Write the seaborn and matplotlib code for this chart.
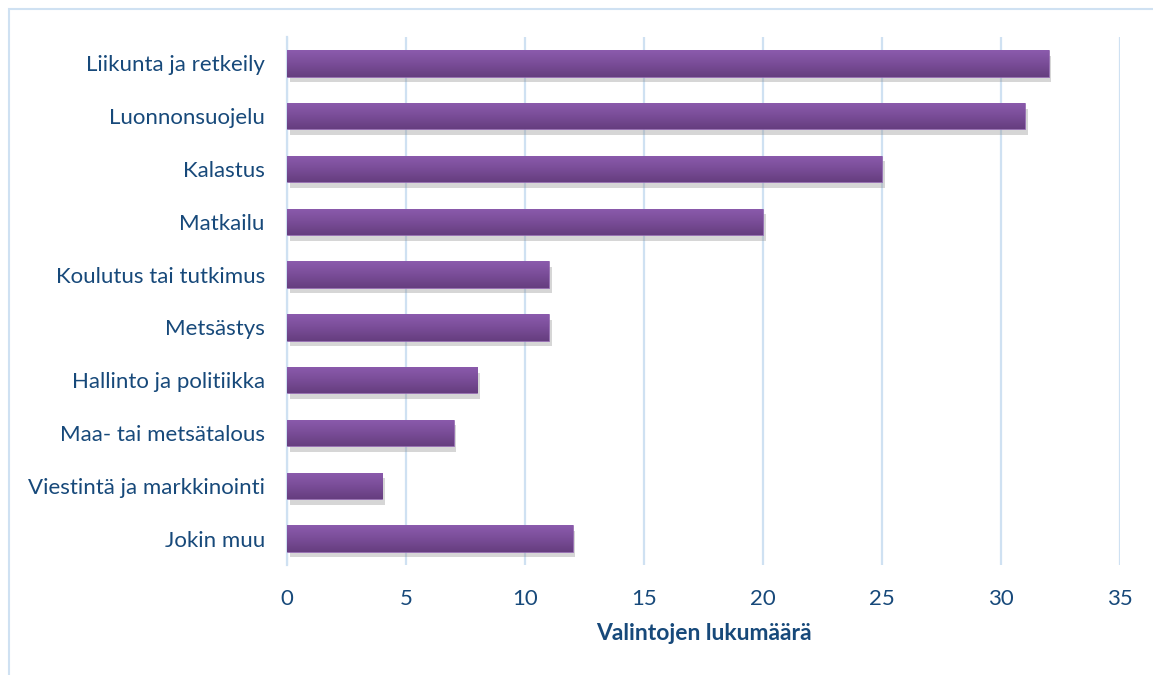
import matplotlib
matplotlib.use('Agg')
import matplotlib.pyplot as plt
import matplotlib.patheffects as pe
from matplotlib.patches import Rectangle
from matplotlib.colors import LinearSegmentedColormap
import numpy as np
import seaborn as sns
import pandas as pd

categories = ['Liikunta ja retkeily', 'Luonnonsuojelu', 'Kalastus', 'Matkailu',
              'Koulutus tai tutkimus', 'Metsästys', 'Hallinto ja politiikka',
              'Maa- tai metsätalous', 'Viestintä ja markkinointi', 'Jokin muu']
counts = [32, 31, 25, 20, 11, 11, 8, 7, 4, 12]
xticks = [0, 5, 10, 15, 20, 25, 30, 35]

TEXT = '#17497A'
GRID = '#CFE1F2'
BAR = '#7A4B97'

sns.set_theme(style='white')
plt.rcParams['font.family'] = ['Lato', 'DejaVu Sans']

df = pd.DataFrame({'category': categories, 'count': counts})

fig = plt.figure(figsize=(11.53, 6.75), dpi=100)
ax = fig.add_axes([287 / 1153, 1 - 565 / 675, (1120 - 287) / 1153, (565 - 37) / 675])

sns.barplot(data=df, x='count', y='category', color=BAR, width=0.5,
            saturation=1, ax=ax, zorder=3)

# vertical gradient inside each bar, like the original office chart
grad = LinearSegmentedColormap.from_list('bar', ['#8B5BAD', '#7A4D98', '#663E7F'])
g = np.linspace(0, 1, 64).reshape(-1, 1)
for p in list(ax.patches):
    p.set_edgecolor('#9469B3')
    p.set_linewidth(0.5)
    p.set_path_effects([pe.SimplePatchShadow(offset=(2, -4), shadow_rgbFace='#8c8c8c', alpha=0.35),
                        pe.Normal()])
    x0, y0 = p.get_x(), p.get_y()
    w, h = p.get_width(), p.get_height()
    im = ax.imshow(g, cmap=grad, aspect='auto', origin='upper',
                   extent=(x0, x0 + w, y0 + h, y0), zorder=4)
    im.set_clip_path(p)

ax.set_xlim(0, 35)
ax.set_ylim(9.5, -0.5)
ax.set_xticks(xticks)
ax.set_xticklabels([str(t) for t in xticks])
ax.xaxis.grid(True, color=GRID, linewidth=1.6, zorder=0)
ax.set_axisbelow(True)
for s in ['top', 'right', 'bottom']:
    ax.spines[s].set_visible(False)
ax.spines['left'].set_color(GRID)
ax.spines['left'].set_linewidth(1.6)
ax.tick_params(axis='both', length=0, colors=TEXT, labelsize=16)
ax.tick_params(axis='x', pad=17)
ax.tick_params(axis='y', pad=16)
ax.set_ylabel('')
ax.set_xlabel('Valintojen lukumäärä', color=TEXT, fontsize=16.5, fontweight='bold', labelpad=10)

fig.patches.append(Rectangle((9 / 1153, -0.01), 1.2, 1 - 9 / 675 + 0.01, transform=fig.transFigure,
                             fill=False, edgecolor=GRID, linewidth=1.5))

fig.savefig('out.png', dpi=100)
